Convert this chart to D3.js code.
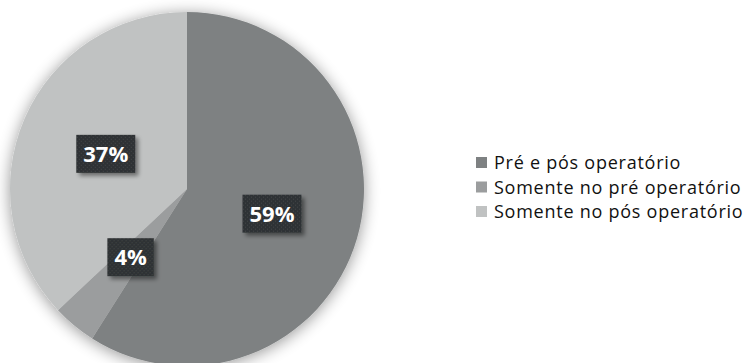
<!DOCTYPE html>
<html>
<head>
<meta charset="utf-8">
<script src="https://cdn.jsdelivr.net/npm/d3@7/dist/d3.min.js"></script>
<style>
  html, body { margin: 0; padding: 0; background: #fff; }
  svg { display: block; }
</style>
</head>
<body>
<svg id="chart" width="749" height="363"></svg>
<script>
// Categories and their shares (percent)
const categories = ["Pré e pós operatório", "Somente no pré operatório", "Somente no pós operatório"];
const values = [59, 4, 37];
const labels = ["59%", "4%", "37%"];
const colors = ["#7e8182", "#9b9d9e", "#c0c2c2"];

const svg = d3.select("#chart");
const cx = 187, cy = 189, radius = 177;

const defs = svg.append("defs");

// soft halo around the pie
const halo = defs.append("filter").attr("id", "halo")
  .attr("x", "-20%").attr("y", "-20%").attr("width", "140%").attr("height", "140%");
halo.append("feGaussianBlur").attr("in", "SourceAlpha").attr("stdDeviation", 8).attr("result", "b");
halo.append("feOffset").attr("in", "b").attr("dx", 0).attr("dy", 2).attr("result", "o");
halo.append("feComponentTransfer").attr("in", "o").attr("result", "s")
  .append("feFuncA").attr("type", "linear").attr("slope", 0.42);
const hm = halo.append("feMerge");
hm.append("feMergeNode").attr("in", "s");
hm.append("feMergeNode").attr("in", "SourceGraphic");

// drop shadow for the label boxes
const boxShadow = defs.append("filter").attr("id", "boxShadow")
  .attr("x", "-30%").attr("y", "-30%").attr("width", "170%").attr("height", "170%");
boxShadow.append("feGaussianBlur").attr("in", "SourceAlpha").attr("stdDeviation", 2).attr("result", "b");
boxShadow.append("feOffset").attr("in", "b").attr("dx", 3).attr("dy", 3).attr("result", "o");
boxShadow.append("feComponentTransfer").attr("in", "o").attr("result", "s")
  .append("feFuncA").attr("type", "linear").attr("slope", 0.45);
const bm = boxShadow.append("feMerge");
bm.append("feMergeNode").attr("in", "s");
bm.append("feMergeNode").attr("in", "SourceGraphic");

// fine dotted texture on the label boxes
const dots = defs.append("pattern").attr("id", "dots")
  .attr("width", 4).attr("height", 4).attr("patternUnits", "userSpaceOnUse");
dots.append("rect").attr("width", 4).attr("height", 4).attr("fill", "#2f3234");
dots.append("rect").attr("x", 1).attr("y", 1).attr("width", 1).attr("height", 1).attr("fill", "#43474a");
dots.append("rect").attr("x", 3).attr("y", 3).attr("width", 1).attr("height", 1).attr("fill", "#43474a");

const pie = d3.pie().sort(null).value(d => d)(values);
const arc = d3.arc().innerRadius(0).outerRadius(radius);

const g = svg.append("g").attr("transform", `translate(${cx},${cy})`);

g.append("g").attr("filter", "url(#halo)")
  .selectAll("path")
  .data(pie)
  .join("path")
  .attr("d", arc)
  .attr("fill", (d, i) => colors[i]);

// data labels at the arc centroid
const lbl = g.selectAll("g.lbl")
  .data(pie)
  .join("g")
  .attr("class", "lbl")
  .attr("transform", d => `translate(${arc.centroid(d)})`);

lbl.each(function(d, i) {
  const sel = d3.select(this);
  const t = sel.append("text")
    .attr("text-anchor", "middle")
    .attr("dy", "0.36em")
    .attr("font-family", "'Open Sans', sans-serif")
    .attr("font-weight", 700)
    .attr("font-size", 22)
    .attr("fill", "#ffffff")
    .text(labels[i]);
  const w = t.node().getComputedTextLength();
  const bw = w + 14, bh = 38;
  sel.insert("rect", "text")
    .attr("x", -bw / 2).attr("y", -bh / 2)
    .attr("width", bw).attr("height", bh)
    .attr("fill", "url(#dots)")
    .attr("filter", "url(#boxShadow)");
});

// legend
const legend = svg.append("g").attr("transform", "translate(476,163)");
const rows = legend.selectAll("g")
  .data(categories)
  .join("g")
  .attr("transform", (d, i) => `translate(0,${i * 24.5})`);
rows.append("rect")
  .attr("x", 0).attr("y", -6)
  .attr("width", 11).attr("height", 11)
  .attr("fill", (d, i) => colors[i]);
rows.append("text")
  .attr("x", 18)
  .attr("dy", "0.35em")
  .attr("font-family", "'Open Sans', sans-serif")
  .attr("font-size", 18)
  .attr("letter-spacing", 0.75)
  .attr("fill", "#111")
  .text(d => d);
</script>
</body>
</html>
